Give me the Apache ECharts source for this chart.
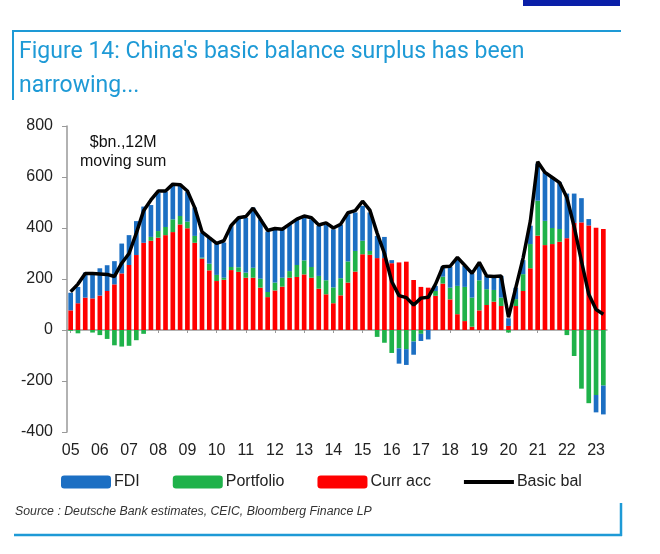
<!DOCTYPE html>
<html><head><meta charset="utf-8">
<script src="https://cdn.jsdelivr.net/npm/echarts@6/dist/echarts.min.js"></script>
<style>html,body{margin:0;padding:0;background:#fff}#c{width:660px;height:554px}</style>
</head><body><div id="c"></div>
<script>
// Quarterly, 2005Q1 .. 2023Q2, $bn 12M moving sum
const yearLabels = ['05','06','07','08','09','10','11','12','13','14','15','16','17','18','19','20','21','22','23'];
const currAcc = [77,105,127,124,135,153,179,222,255,294,342,350,
  362,372,384,414,399,342,280,234,192,197,235,228,205,205,
  166,129,155,170,205,208,218,205,162,140,105,136,186,
  229,297,295,282,282,262,265,268,196,169,166,134,
  182,120,62,35,13,77,98,111,94,16,94,153,242,370,
  333,337,346,360,420,422,410,401,396];
const portfolio = [-3,-13,0,-10,-20,-35,-60,-65,-62,-40,-15,15,
  26,32,50,33,26,27,4,26,24,8,12,18,20,39,
  35,20,31,35,26,47,55,42,50,55,62,67,83,
  81,53,15,-27,-50,-90,-72,-75,-45,-15,0,19,
  27,46,111,134,114,118,62,46,33,-10,27,66,95,137,
  95,63,50,-20,-102,-230,-287,-255,-218];
const fdi = [69,64,98,103,107,101,91,117,117,133,142,125,
  150,138,137,124,116,111,98,102,123,138,163,194,215,236,
  233,237,209,190,182,179,174,187,196,218,228,210,185,
  151,137,151,87,83,12,-60,-62,-52,-28,-37,20,
  40,82,105,82,94,56,52,49,85,30,45,55,72,145,
  190,199,183,175,115,95,25,-68,-113];
const basicBal = [150,180,222,222,220,218,210,262,300,380,468,510,
  545,545,572,570,545,480,385,362,340,350,410,440,445,478,
  435,390,398,395,415,435,447,440,412,420,400,415,460,
  468,505,470,380,300,190,135,127,98,125,128,180,
  248,250,285,254,222,265,212,210,212,50,166,282,428,660,
  618,598,578,520,405,270,140,80,62];
const yTicks = [-400,-200,0,200,400,600,800];

const quarters = [];
for (let i = 0; i < currAcc.length; i++) {
  quarters.push(yearLabels[Math.floor(i/4)] + 'Q' + (i%4+1));
}
const labelFor = q => q.endsWith('Q1') ? q.slice(0,2) : '';

const chart = echarts.init(document.getElementById('c'), null, {renderer:'canvas'});
const blueLine = '#1e9ad6';
chart.setOption({
  animation:false,
  backgroundColor:'#fff',
  textStyle:{fontFamily:'Liberation Sans, Arial, sans-serif'},
  grid:{left:67, width:540, top:126, height:306, outerBoundsMode:'none', containLabel:false},
  legend:{
    left:56, top:469, itemWidth:50, itemHeight:13, itemGap:33, symbolKeepAspect:true,
    textStyle:{fontSize:16, color:'#222', padding:[0,0,0,-2]},
    data:[{name:'FDI',icon:'roundRect'},{name:'Portfolio',icon:'roundRect'},{name:'Curr acc',icon:'roundRect'},
          {name:'Basic bal', icon:'path://M0,0H50V4H0Z'}]
  },
  xAxis:{
    type:'category', data:quarters, boundaryGap:true,
    axisLine:{onZero:true, lineStyle:{color:'#999', width:1.5}},
    axisTick:{show:true, interval:(i)=>i%4===0, length:3, alignWithLabel:true, lineStyle:{color:'#999'}},
    axisLabel:{interval:(i)=>i%4===0, formatter:labelFor, margin:11, fontSize:16, color:'#222'},
    splitLine:{show:false}
  },
  yAxis:{
    type:'value', min:yTicks[0], max:yTicks[yTicks.length-1], interval:200,
    axisLine:{show:true, lineStyle:{color:'#999', width:1.5}},
    axisTick:{show:true, length:5, lineStyle:{color:'#999'}},
    axisLabel:{fontSize:16, color:'#222', margin:14},
    splitLine:{show:false}
  },
  series:[
    {name:'Curr acc', type:'bar', stack:'bb', data:currAcc, barWidth:'64%', itemStyle:{color:'#ff0000'}},
    {name:'Portfolio', type:'bar', stack:'bb', data:portfolio, itemStyle:{color:'#1fb24a'}},
    {name:'FDI', type:'bar', stack:'bb', data:fdi, itemStyle:{color:'#1c6fc3'}},
    {name:'Basic bal', type:'line', data:basicBal, symbol:'none', z:5,
     lineStyle:{color:'#000', width:3.5}, itemStyle:{color:'#000'}}
  ],
  graphic:[
    {type:'rect', shape:{x:523,y:0,width:97,height:6}, style:{fill:'#0a1fa8'}},
    {type:'line', shape:{x1:12,y1:31,x2:621,y2:31}, style:{stroke:blueLine, lineWidth:2}},
    {type:'line', shape:{x1:13,y1:30,x2:13,y2:100}, style:{stroke:blueLine, lineWidth:2}},
    {type:'text', left:19, top:35, style:{text:"Figure 14: China's basic balance surplus has been\nnarrowing...", fill:blueLine, font:'23px Roboto', lineHeight:34}},
    {type:'text', left:80, top:133, style:{text:'$bn.,12M\nmoving sum', fill:'#111', font:'16px "Liberation Sans"', lineHeight:19, align:'center', textAlign:'center'}},
    {type:'text', left:15, top:506, style:{text:'Source : Deutsche Bank estimates, CEIC, Bloomberg Finance LP', fill:'#333', font:'italic 12.3px "Liberation Sans"'}},
    {type:'line', shape:{x1:14,y1:535,x2:622,y2:535}, style:{stroke:blueLine, lineWidth:2.5}},
    {type:'line', shape:{x1:621,y1:503,x2:621,y2:536}, style:{stroke:blueLine, lineWidth:2.5}}
  ]
});
</script></body></html>
